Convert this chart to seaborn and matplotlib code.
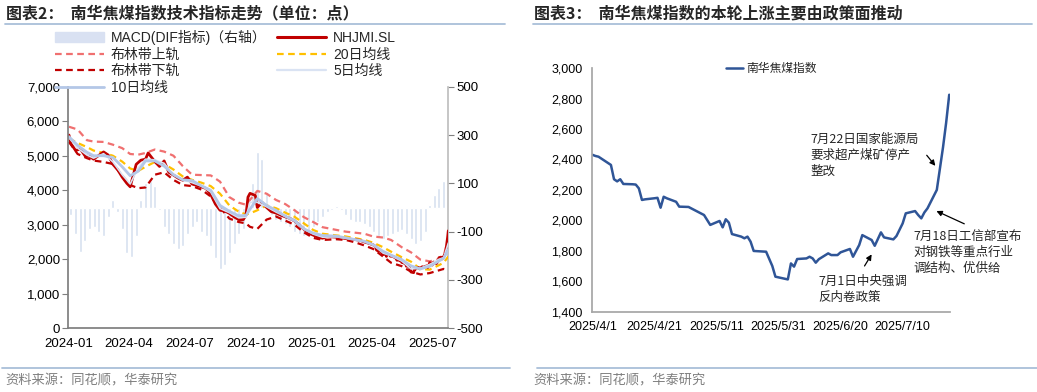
import numpy as np
import pandas as pd
import matplotlib
matplotlib.use("Agg")
import matplotlib.pyplot as plt
import matplotlib.dates as mdates
from matplotlib.lines import Line2D
from matplotlib.patches import Patch
from matplotlib.ticker import FuncFormatter
import seaborn as sns

# ---------------- data ----------------
# NHJMI.SL, weekly readings 2024-01 .. 2025-03
hist_dates = ["2024-01-02", "2024-01-05", "2024-01-12", "2024-01-19", "2024-01-26", "2024-02-02",
              "2024-02-08", "2024-02-23", "2024-03-01", "2024-03-08", "2024-03-15", "2024-03-22",
              "2024-03-29", "2024-04-03", "2024-04-12", "2024-04-19", "2024-04-26", "2024-04-30",
              "2024-05-10", "2024-05-17", "2024-05-24", "2024-05-31", "2024-06-07", "2024-06-14",
              "2024-06-21", "2024-06-28", "2024-07-05", "2024-07-12", "2024-07-19", "2024-07-26",
              "2024-08-02", "2024-08-09", "2024-08-16", "2024-08-23", "2024-08-30", "2024-09-06",
              "2024-09-13", "2024-09-20", "2024-09-24", "2024-09-27", "2024-09-30", "2024-10-08",
              "2024-10-11", "2024-10-18", "2024-10-25", "2024-11-01", "2024-11-08", "2024-11-15",
              "2024-11-22", "2024-11-29", "2024-12-06", "2024-12-13", "2024-12-20", "2024-12-27",
              "2025-01-03", "2025-01-10", "2025-01-17", "2025-01-24", "2025-02-07", "2025-02-14",
              "2025-02-21", "2025-02-28", "2025-03-07", "2025-03-14", "2025-03-21", "2025-03-28"]
hist_price = [5600, 5350, 5150, 5200, 5000, 4980,
              4900, 5110, 5020, 4750, 4600, 4380,
              4200, 4100, 4750, 4870, 4900, 5080,
              4830, 4690, 4850, 4520, 4440, 4350,
              4290, 4380, 4180, 4140, 4100, 4050,
              3880, 3600, 3420, 3400, 3330, 3230,
              3150, 3150, 3280, 3800, 3910, 3850,
              3500, 3650, 3500, 3380, 3340, 3280,
              3230, 3185, 3110, 3000, 2870, 2760,
              2700, 2640, 2610, 2660, 2640, 2620,
              2600, 2580, 2570, 2550, 2500, 2460]

# 南华焦煤指数, daily readings 2025-04-01 .. 2025-07-25
recent_dates = ["2025-04-01", "2025-04-02", "2025-04-03", "2025-04-07", "2025-04-08", "2025-04-09",
                "2025-04-10", "2025-04-11", "2025-04-14", "2025-04-15", "2025-04-16", "2025-04-17",
                "2025-04-18", "2025-04-21", "2025-04-22", "2025-04-23", "2025-04-24", "2025-04-25",
                "2025-04-28", "2025-04-29", "2025-05-02", "2025-05-07", "2025-05-09", "2025-05-12",
                "2025-05-13", "2025-05-14", "2025-05-15", "2025-05-16", "2025-05-19", "2025-05-20",
                "2025-05-21", "2025-05-22", "2025-05-23", "2025-05-27", "2025-05-29", "2025-05-30",
                "2025-06-03", "2025-06-04", "2025-06-05", "2025-06-06", "2025-06-09", "2025-06-10",
                "2025-06-11", "2025-06-12", "2025-06-13", "2025-06-16", "2025-06-17", "2025-06-19",
                "2025-06-20", "2025-06-23", "2025-06-24", "2025-06-26", "2025-06-27", "2025-06-30",
                "2025-07-01", "2025-07-03", "2025-07-04", "2025-07-07", "2025-07-08", "2025-07-10",
                "2025-07-11", "2025-07-14", "2025-07-15", "2025-07-16", "2025-07-17", "2025-07-18",
                "2025-07-21", "2025-07-22", "2025-07-23", "2025-07-24", "2025-07-25"]
recent_price = [2431, 2423, 2418, 2364, 2270, 2256,
                2270, 2239, 2237, 2235, 2210, 2134,
                2138, 2145, 2148, 2083, 2155, 2145,
                2122, 2090, 2088, 2035, 1970, 1996,
                1954, 2007, 1985, 1910, 1893, 1882,
                1893, 1860, 1799, 1794, 1700, 1630,
                1612, 1717, 1696, 1746, 1750, 1761,
                1750, 1722, 1745, 1783, 1772, 1772,
                1790, 1812, 1761, 1838, 1903, 1871,
                1833, 1921, 1888, 1875, 1897, 1980,
                2046, 2061, 2035, 2013, 2052, 2079,
                2200, 2340, 2480, 2640, 2825]

# moving averages and Bollinger bands, semi-monthly readings
band_dates = ["2024-01-02", "2024-01-15", "2024-01-29", "2024-02-08", "2024-02-23", "2024-03-08",
              "2024-03-22", "2024-04-03", "2024-04-15", "2024-04-26", "2024-05-10", "2024-05-24",
              "2024-06-07", "2024-06-21", "2024-07-05", "2024-07-19", "2024-08-02", "2024-08-16",
              "2024-08-30", "2024-09-13", "2024-09-24", "2024-09-30", "2024-10-11", "2024-10-25",
              "2024-11-08", "2024-11-22", "2024-12-06", "2024-12-20", "2025-01-03", "2025-01-17",
              "2025-02-07", "2025-02-21", "2025-03-07", "2025-03-21", "2025-04-03", "2025-04-18",
              "2025-04-30", "2025-05-16", "2025-05-30", "2025-06-13", "2025-06-27", "2025-07-11",
              "2025-07-18", "2025-07-25"]
ma5 = [5520, 5220, 5020, 4930, 5060, 4820, 4450, 4180, 4650, 4900, 4880, 4780,
       4450, 4300, 4220, 4120, 3950, 3470, 3350, 3200, 3220, 3650, 3650, 3520,
       3370, 3240, 3110, 2870, 2730, 2640, 2650, 2610, 2570, 2510, 2420, 2180,
       2100, 1950, 1720, 1740, 1850, 2000, 2045, 2470]
ma10 = [5550, 5300, 5100, 5000, 5000, 4950, 4680, 4420, 4550, 4850, 4850, 4700,
        4450, 4300, 4280, 4130, 4000, 3560, 3390, 3260, 3270, 3450, 3760, 3560,
        3420, 3250, 3120, 2880, 2760, 2690, 2670, 2620, 2570, 2520, 2420, 2230,
        2120, 1990, 1810, 1720, 1800, 1950, 2030, 2280]
ma20 = [5500, 5370, 5250, 5150, 5080, 5000, 4830, 4630, 4560, 4680, 4820, 4760,
        4600, 4400, 4300, 4220, 4120, 3900, 3560, 3380, 3300, 3330, 3420, 3560,
        3480, 3350, 3230, 3040, 2850, 2740, 2690, 2660, 2610, 2560, 2480, 2350,
        2220, 2060, 1930, 1720, 1700, 1830, 1900, 2080]
boll_up = [5840, 5760, 5450, 5410, 5400, 5320, 5220, 5050, 5030, 5080, 5180, 5120,
           5000, 4700, 4450, 4440, 4430, 4250, 3800, 3640, 3580, 3720, 3980, 3900,
           3720, 3600, 3420, 3220, 3080, 2930, 2850, 2800, 2770, 2740, 2660, 2630,
           2560, 2350, 2200, 1990, 1940, 2000, 2100, 2600]
boll_dn = [5400, 5050, 4930, 4860, 4820, 4760, 4420, 4150, 4060, 4080, 4450, 4520,
           4300, 4150, 4120, 4020, 3820, 3500, 3180, 3080, 3040, 2940, 2880, 3150,
           3240, 3120, 3000, 2780, 2620, 2560, 2580, 2560, 2490, 2400, 2300, 2080,
           1900, 1800, 1640, 1560, 1600, 1680, 1720, 1690]

# MACD (DIF), weekly readings, right axis
dif_dates = pd.date_range("2024-01-05", "2025-07-25", freq="W-FRI")
dif_vals = [-30, -110, -185, -140, -90, -80, -100, -120, -40, 30, -20, -90, -190,
            -205, -120, 30, 100, 110, 90, -10, -80, -110, -150, -170, -160, -110,
            -80, -60, -100, -120, -160, -210, -255, -240, -190, -150, -110, -90, -20,
            100, 230, 200, 60, -30, -50, -60, -70, -80, -100, -110, -120, -110,
            -80, -60, -40, -20, -10, 5, -10, -30, -50, -60, -60, -70, -80, -100,
            -120, -130, -120, -110, -100, -95, -110, -130, -150, -140, -100, 10,
            50, 80, 110, 180]

left_ticks = ["2024-01-01", "2024-04-01", "2024-07-01", "2024-10-01",
              "2025-01-01", "2025-04-01", "2025-07-01"]

notes = ["7月22日国家能源局\n要求超产煤矿停产\n整改",
         "7月18日工信部宣布\n对钢铁等重点行业\n调结构、优供给",
         "7月1日中央强调\n反内卷政策"]

# ---------------- style ----------------
sns.set_theme(style="white")
plt.rcParams["font.family"] = ["Liberation Sans", "Noto Sans CJK SC"]
plt.rcParams["axes.unicode_minus"] = False
CJK = ["Noto Sans CJK SC", "DejaVu Sans"]

W, H = 1037, 392
fig = plt.figure(figsize=(W / 100, H / 100), dpi=100)

price_dt = pd.to_datetime(hist_dates + recent_dates)
price_all = hist_price + recent_price
band_dt = pd.to_datetime(band_dates)
recent_dt = pd.to_datetime(recent_dates)

# ---------------- left panel ----------------
ax = fig.add_axes([68.3 / W, 1 - 328.3 / H, 380 / W, 241.6 / H])
ax2 = ax.twinx()
ax.set_zorder(ax2.get_zorder() + 1)
ax.patch.set_visible(False)

ax2.bar(dif_dates, dif_vals, width=4.5, color="#d6e0f0", zorder=1)
ax2.set_ylim(-500, 500)
ax2.set_yticks([-500, -300, -100, 100, 300, 500])

dash = (0, (3, 2))
sns.lineplot(x=band_dt, y=boll_up, ax=ax, color="#f07070", lw=1.6, linestyle=dash)
sns.lineplot(x=band_dt, y=boll_dn, ax=ax, color="#c00000", lw=1.6, linestyle=dash)
sns.lineplot(x=band_dt, y=ma20, ax=ax, color="#ffc000", lw=1.6, linestyle=dash)
sns.lineplot(x=price_dt, y=price_all, ax=ax, color="#c00000", lw=2.0)
sns.lineplot(x=band_dt, y=ma5, ax=ax, color="#dae3f3", lw=1.2)
sns.lineplot(x=band_dt, y=ma10, ax=ax, color="#b4c7e7", lw=2.0)

ax.set_xlim(pd.Timestamp("2024-01-01"), pd.Timestamp("2025-07-25"))
ax.set_ylim(0, 7000)
ax.set_yticks(range(0, 7001, 1000))
ax.yaxis.set_major_formatter(FuncFormatter(lambda v, p: f"{v:,.0f}"))
ax.set_xticks(pd.to_datetime(left_ticks))
ax.xaxis.set_major_formatter(mdates.DateFormatter("%Y-%m"))
ax.set_xlabel("")
ax.set_ylabel("")

for a in (ax, ax2):
    a.spines["top"].set_visible(False)
    a.tick_params(direction="out", length=4, width=0.8, color="#7f7f7f",
                  labelsize=9.5, labelcolor="black", pad=2)
ax.spines["left"].set_color("#7f7f7f")
ax.spines["bottom"].set_color("#7f7f7f")
ax.spines["right"].set_visible(False)
ax2.spines["left"].set_visible(False)
ax2.spines["bottom"].set_visible(False)
ax2.spines["right"].set_color("#bfbfbf")
ax.tick_params(axis="x", labelsize=9.5, pad=3)

handles = [
    Patch(color="#d9e1f2", label="MACD(DIF指标)（右轴）"),
    Line2D([], [], color="#f07070", lw=1.6, linestyle=dash, label="布林带上轨"),
    Line2D([], [], color="#c00000", lw=1.6, linestyle=dash, label="布林带下轨"),
    Line2D([], [], color="#b4c7e7", lw=2.0, label="10日均线"),
    Line2D([], [], color="#c00000", lw=2.2, label="NHJMI.SL"),
    Line2D([], [], color="#ffc000", lw=1.6, linestyle=dash, label="20日均线"),
    Line2D([], [], color="#dae3f3", lw=1.6, label="5日均线"),
]
fig.legend(handles=handles, loc="upper left", bbox_to_anchor=(55 / W, 1 - 30 / H),
           ncol=2, frameon=False, fontsize=10, borderpad=0, borderaxespad=0,
           handlelength=3.5, handletextpad=0.5, columnspacing=0.8, labelspacing=0.18)

# ---------------- right panel ----------------
ax3 = fig.add_axes([592.3 / W, 1 - 311.7 / H, 357.7 / W, 243.6 / H])
sns.lineplot(x=recent_dt, y=recent_price, ax=ax3, color="#2f5597", lw=1.8,
             label="南华焦煤指数")
ax3.set_xlim(pd.Timestamp("2025-04-01"), pd.Timestamp("2025-07-25 06:00"))
ax3.set_ylim(1400, 3000)
ax3.set_yticks(range(1400, 3001, 200))
ax3.yaxis.set_major_formatter(FuncFormatter(lambda v, p: f"{v:,.0f}"))
ax3.set_xticks(pd.date_range("2025-04-01", periods=6, freq="20D"))
ax3.xaxis.set_major_formatter(FuncFormatter(
    lambda v, p: "{0.year}/{0.month}/{0.day}".format(mdates.num2date(v))))
ax3.set_xlabel("")
ax3.set_ylabel("")
ax3.spines["top"].set_visible(False)
ax3.spines["right"].set_visible(False)
ax3.spines["left"].set_color("#a6a6a6")
ax3.spines["bottom"].set_color("#a6a6a6")
ax3.tick_params(direction="out", length=4, width=0.8, color="#a6a6a6",
                labelsize=9, labelcolor="black", pad=3)
ax3.legend(loc="upper left", bbox_to_anchor=(0.373, 1.025), frameon=False,
           handlelength=1.5, handletextpad=0.2, borderpad=0, borderaxespad=0,
           prop={"family": CJK, "size": 8.5})

# annotations
text_pos = [(0.609, 0.733), (0.897, 0.335), (0.631, 0.150)]
for (tx, ty), note in zip(text_pos, notes):
    ax3.text(tx, ty, note, transform=ax3.transAxes, va="top", ha="left",
             fontsize=9, family=CJK, color="#262626", linespacing=1.3)
arrow = dict(arrowstyle="-|>", color="black", lw=0.9, mutation_scale=8)
for tail, head in [((0.930, 0.651), (0.964, 0.590)),
                   ((1.047, 0.356), (0.955, 0.418)),
                   ((0.757, 0.178), (0.785, 0.245))]:
    ax3.annotate("", xy=head, xytext=tail, xycoords="axes fraction",
                 textcoords="axes fraction", arrowprops=arrow, annotation_clip=False)

# ---------------- titles, rules, sources ----------------
fig.text(6 / W, 1 - 13 / H, "图表2：  南华焦煤指数技术指标走势（单位：点）",
         fontsize=11.5, fontweight="bold", va="center", family=CJK)
fig.text(534 / W, 1 - 13 / H, "图表3：  南华焦煤指数的本轮上涨主要由政策面推动",
         fontsize=11.5, fontweight="bold", va="center", family=CJK)
rule = "#a9bfd9"
for x0, x1 in [(5, 505), (533, 1032)]:
    fig.add_artist(Line2D([x0 / W, x1 / W], [1 - 24 / H] * 2, color=rule, lw=1.3))
for x0, x1 in [(2, 510), (537, 1037)]:
    fig.add_artist(Line2D([x0 / W, x1 / W], [1 - 368 / H] * 2, color=rule, lw=1.3))
for sx in (5, 533):
    fig.text(sx / W, 1 - 381 / H, "资料来源：同花顺，华泰研究", fontsize=9.5,
             color="#7f7f7f", va="center", family=CJK)

fig.savefig("out.png", dpi=100)
